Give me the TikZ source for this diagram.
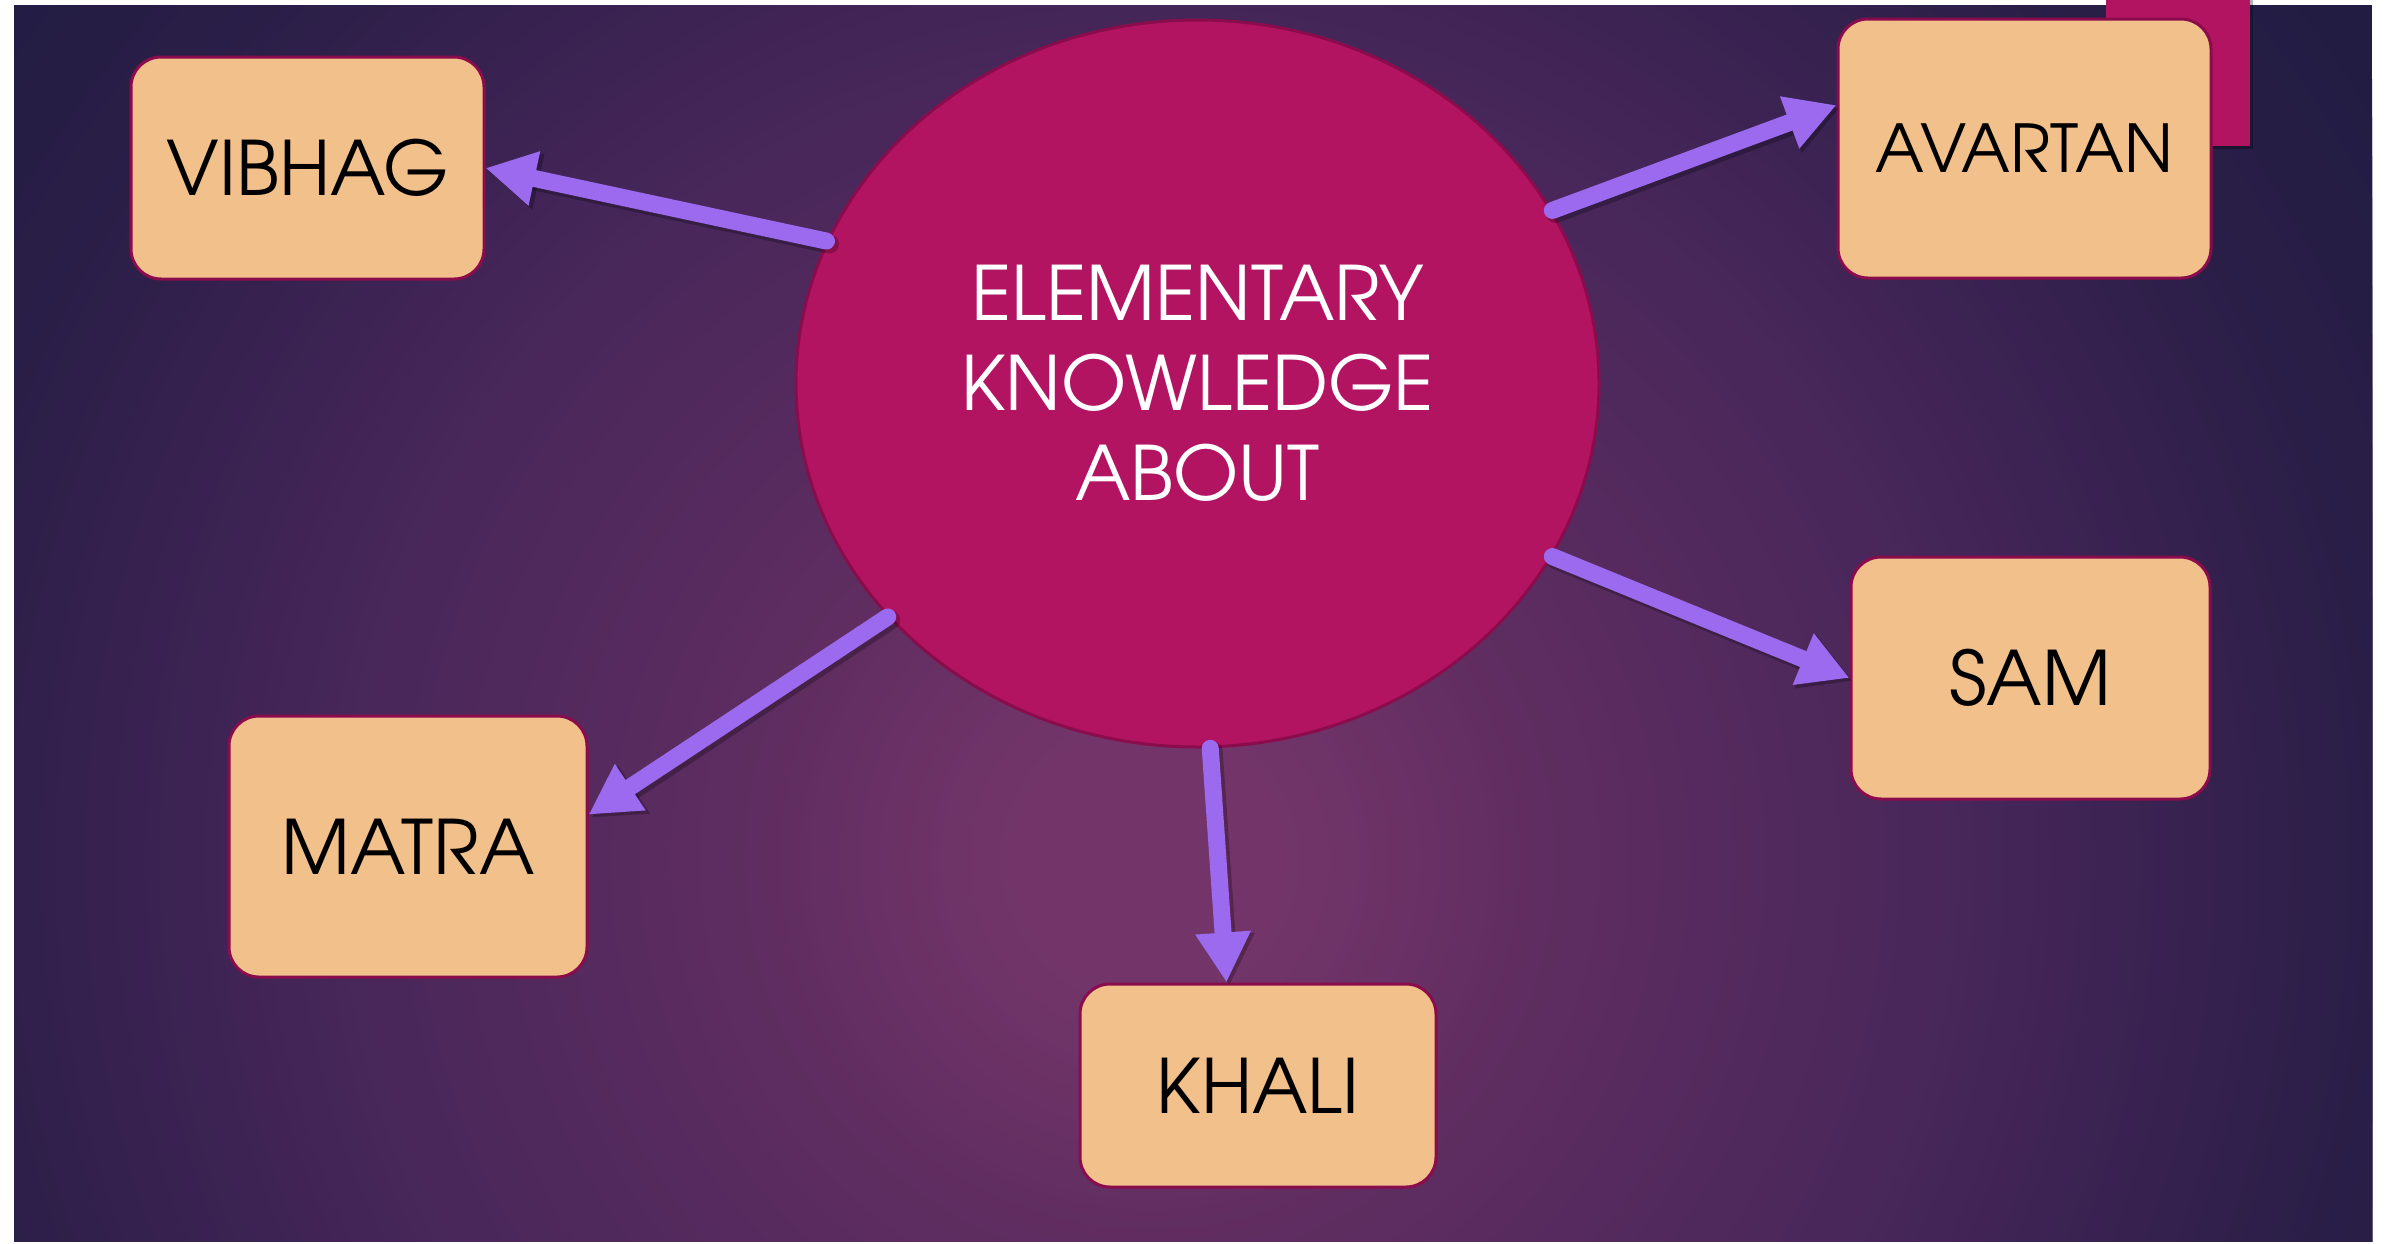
\documentclass[tikz,border=0pt]{standalone}
\usepackage{fontspec}
\setmainfont{TeX Gyre Adventor}
\usetikzlibrary{shapes.geometric,arrows.meta}
\definecolor{bgin}{HTML}{733569}
\definecolor{bgb}{HTML}{602D61}
\definecolor{bgc}{HTML}{462659}
\definecolor{bgd}{HTML}{2A1E47}
\definecolor{bgout}{HTML}{221C43}
\definecolor{magc}{HTML}{B31462}
\definecolor{magd}{HTML}{8A0C4C}
\definecolor{boxc}{HTML}{F2C08A}
\definecolor{arrc}{HTML}{9B6AEE}
\begin{document}
\begin{tikzpicture}[x=1pt,y=-1pt,
  topic/.style={rectangle, rounded corners=30pt, fill=boxc, draw=magd, line width=3pt, inner sep=0pt, text=black, font=\fontsize{75}{90}\selectfont},
  hub/.style={ellipse, fill=magc, draw=magd, line width=3pt, inner sep=0pt, text=white, align=center, font=\fontsize{75}{90}\selectfont},
  arr/.style={draw=arrc, line width=17pt, line cap=round, -{Triangle[length=50pt,width=52pt]}},
  arrshadow/.style={draw=black, opacity=0.25, line width=19pt, line cap=round, -{Triangle[length=51pt,width=54pt]}, transform canvas={xshift=3pt,yshift=-3pt}}
]
\useasboundingbox (0,0) rectangle (2395,1243);
\fill[white] (0,0) rectangle (2395,1243);
\begin{scope}
  \clip (14,5) rectangle (2372,1241);
  \fill[bgout] (14,5) rectangle (2372,1241);
  \foreach \r in {1450,1430,...,1230}{
    \pgfmathsetmacro\p{(1450-\r)/220*100}
    \fill[bgd!\p!bgout] (1150,860) circle[radius=\r];
  }
  \foreach \r in {1215,1200,...,840}{
    \pgfmathsetmacro\p{(1230-\r)/390*100}
    \fill[bgc!\p!bgd] (1150,860) circle[radius=\r];
  }
  \foreach \r in {825,810,...,390}{
    \pgfmathsetmacro\p{(840-\r)/450*100}
    \fill[bgb!\p!bgc] (1150,860) circle[radius=\r];
  }
  \foreach \r in {380,370,...,140}{
    \pgfmathsetmacro\p{(390-\r)/250*100}
    \fill[bgin!\p!bgb] (1150,860) circle[radius=\r];
  }
\end{scope}
% decorative square
\fill[black, opacity=0.3] (2109,0) rectangle (2253,149);
\fill[magc] (2106,0) rectangle (2250,146);

\node[hub, minimum width=803pt, minimum height=727pt] (c) at (1197.5,383.5) {ELEMENTARY\\KNOWLEDGE\\ABOUT};

\node[topic, minimum width=353pt, minimum height=222pt] (vibhag) at (307.5,168) {VIBHAG};
\node[topic, minimum width=373pt, minimum height=259pt, font=\fontsize{66}{80}\selectfont] (avartan) at (2024.5,148.5) {AVARTAN};
\node[topic, minimum width=359pt, minimum height=242pt] (sam) at (2030.5,678) {SAM};
\node[topic, minimum width=358pt, minimum height=261pt] (matra) at (408,846.5) {MATRA};
\node[topic, minimum width=356pt, minimum height=203pt] (khali) at (1258,1085.5) {KHALI};

\foreach \s/\t in {159.4/vibhag.east, 26.5/avartan.167.75, -26/sam.west, -88.35/khali.107, 217.2/matra.10.8}{
  \draw[arrshadow] (c.\s) -- (\t);
}
\foreach \s/\t in {159.4/vibhag.east, 26.5/avartan.167.75, -26/sam.west, -88.35/khali.107, 217.2/matra.10.8}{
  \draw[arr] (c.\s) -- (\t);
}
\end{tikzpicture}
\end{document}
